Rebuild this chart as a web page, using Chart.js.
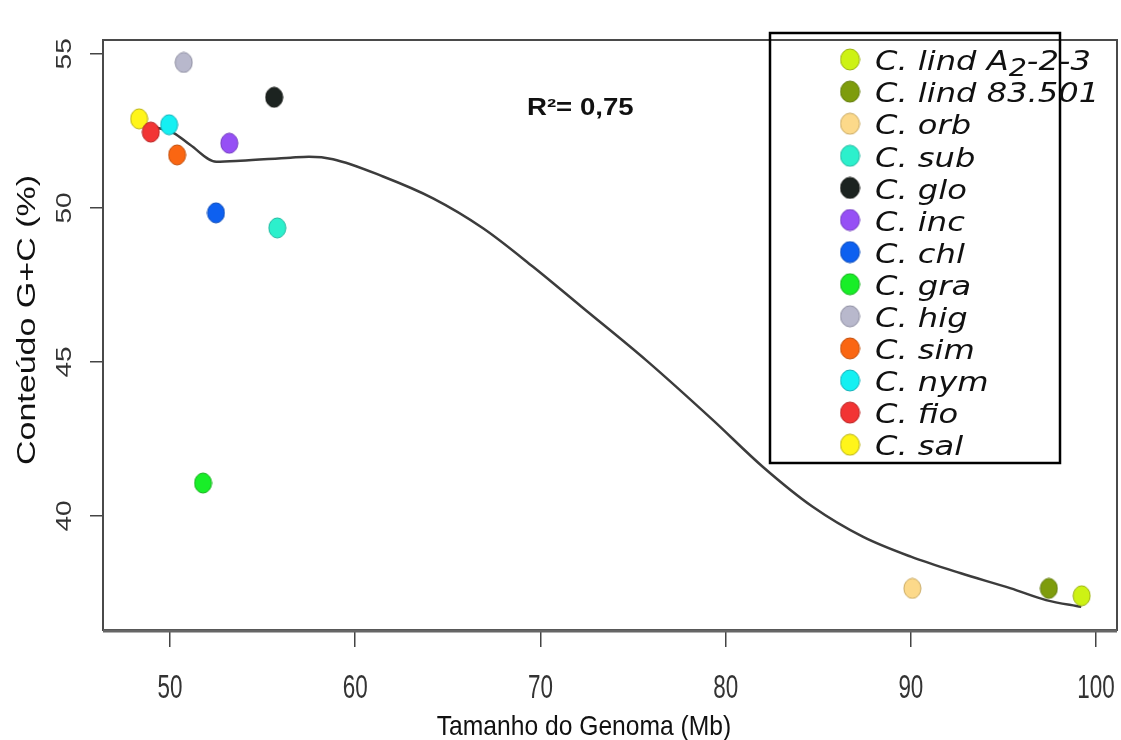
<!DOCTYPE html>
<html>
<head>
<meta charset="utf-8">
<title>Conteúdo G+C vs Tamanho do Genoma</title>
<script src="https://cdn.jsdelivr.net/npm/chart.js@4.4.1/dist/chart.umd.min.js"></script>
<style>
  html, body { margin: 0; padding: 0; background: #fff; }
  #chart { display: block; }
</style>
</head>
<body>
<canvas id="chart" width="1121" height="740"></canvas>
<script>
'use strict';

// ── Data ─────────────────────────────────────────────────
const species    = ['C. lind A₂-2-3', 'C. lind 83.501', 'C. orb', 'C. sub', 'C. glo', 'C. inc', 'C. chl',
                    'C. gra', 'C. hig', 'C. sim', 'C. nym', 'C. fio', 'C. sal'];
const genomeSize = [99.22, 97.45, 90.08, 55.79, 55.62, 53.20, 52.48, 51.78, 50.74, 50.38, 49.95, 48.96, 48.33];
const gcContent  = [37.41, 37.65, 37.65, 49.35, 53.59, 52.10, 49.84, 41.07, 54.72, 51.72, 52.70, 52.46, 52.89];
const fillColors = ['#cdf214', '#7e9c0c', '#fcd98a', '#2cf0cc', '#1c2320', '#9650f5', '#0d60f0',
                    '#18ee28', '#b8b8cc', '#fa6612', '#14f0f2', '#f23434', '#fff51a'];
const edgeColors = ['#9ab010', '#5f7a08', '#c8a860', '#20b8a0', '#101410', '#7038c0', '#0848b8',
                    '#10b018', '#8c8ca0', '#c04c08', '#10b0b8', '#b82020', '#b8b010'];

// loess fit line
const fitX = [48.33, 49.2, 50.2, 51.08, 52.5, 53.8, 56.5, 57.5, 58.8, 61.5, 64.2, 66.9, 69.6,
              72.2, 75.7, 79.3, 82.0, 84.7, 87.4, 90.0, 92.7, 95.4, 97.3, 99.2];
const fitY = [52.78, 52.62, 52.43, 52.05, 51.50, 51.53, 51.63, 51.66, 51.58, 51.02, 50.31, 49.34, 48.09,
              46.80, 45.06, 43.12, 41.60, 40.30, 39.33, 38.68, 38.14, 37.65, 37.27, 37.05];

const xTicks = [50, 60, 70, 80, 90, 100];
const yTicks = [40, 45, 50, 55];
const xTitle = 'Tamanho do Genoma (Mb)';
const yTitle = 'Conteúdo G+C (%)';
const r2Text = 'R²= 0,75';

// ── Slightly oval dots, like the original ────────────────
function makeDot(fill, edge, w, h) {
    const c = document.createElement('canvas');
    c.width = w + 2;
    c.height = h + 2;
    const g = c.getContext('2d');
    g.beginPath();
    g.ellipse(c.width / 2, c.height / 2, w / 2, h / 2, 0, 0, Math.PI * 2);
    g.fillStyle = fill;
    g.fill();
    g.lineWidth = 1;
    g.strokeStyle = edge;
    g.stroke();
    return c;
}

const plotDots   = species.map((s, i) => makeDot(fillColors[i], edgeColors[i], 17, 20));
const legendDots = species.map((s, i) => makeDot(fillColors[i], edgeColors[i], 19, 21));

function drawText(ctx, text, x, y, o) {
    ctx.save();
    ctx.translate(x, y);
    ctx.scale(o.sx || 1, 1);
    if (o.rot) ctx.rotate(o.rot);
    ctx.font = o.font;
    ctx.fillStyle = o.color || '#222';
    ctx.textAlign = o.align || 'center';
    ctx.textBaseline = o.baseline || 'middle';
    ctx.fillText(text, 0, 0);
    ctx.restore();
}

// ── R-style frame, axis labels, legend ───────────────────
const rStyle = {
    id: 'rStyle',
    afterDraw(chart) {
        const ctx = chart.ctx;
        const a = chart.chartArea;
        const xs = chart.scales.x;
        const ys = chart.scales.y;

        ctx.save();
        ctx.strokeStyle = '#4a4a4a';
        ctx.lineWidth = 2;
        ctx.strokeRect(a.left, a.top, a.right - a.left, a.bottom - a.top);
        ctx.strokeStyle = '#666';
        ctx.lineWidth = 3;
        ctx.beginPath();
        ctx.moveTo(a.left, a.bottom + 1);
        ctx.lineTo(a.right, a.bottom + 1);
        ctx.stroke();
        ctx.restore();

        yTicks.forEach(v => {
            drawText(ctx, String(v), 65, ys.getPixelForValue(v),
                { font: '28px "Liberation Sans"', sx: 0.78, rot: -Math.PI / 2, color: '#333' });
        });
        xTicks.forEach(v => {
            drawText(ctx, String(v), xs.getPixelForValue(v), 689,
                { font: '33px "Liberation Sans"', sx: 0.68, color: '#333' });
        });

        drawText(ctx, xTitle, 584, 735,
            { font: '28px "Liberation Sans"', sx: 0.88, baseline: 'alphabetic', color: '#111' });
        drawText(ctx, yTitle, 28, 320,
            { font: '34px "Liberation Sans"', sx: 0.75, rot: -Math.PI / 2, color: '#111' });

        drawText(ctx, r2Text, 527, 115,
            { font: 'bold 23px "Liberation Sans"', sx: 1.2, align: 'left', baseline: 'alphabetic', color: '#111' });

        // legend
        ctx.save();
        ctx.strokeStyle = '#000';
        ctx.lineWidth = 2.5;
        ctx.strokeRect(770, 33, 290, 430);
        ctx.restore();

        const font = 'italic 27px "DejaVu Sans"';
        const sx = 1.19;
        species.forEach((label, i) => {
            const cy = 59.5 + i * 32.1;
            const dot = legendDots[i];
            ctx.drawImage(dot, 850 - dot.width / 2, cy - dot.height / 2);

            ctx.save();
            ctx.font = font;
            ctx.fillStyle = '#111';
            ctx.textBaseline = 'alphabetic';
            ctx.textAlign = 'left';
            ctx.translate(875, cy + 10.7);
            ctx.scale(sx, 1);
            const parts = label.split('₂');
            let x = 0;
            parts.forEach((p, k) => {
                ctx.fillText(p, x, 0);
                x += ctx.measureText(p).width;
                if (k < parts.length - 1) {
                    ctx.font = 'italic 24px "DejaVu Sans"';
                    ctx.fillText('2', x, 6);
                    x += ctx.measureText('2').width;
                    ctx.font = font;
                }
            });
            ctx.restore();
        });
    }
};

// ── Datasets ──────────────────────────────────────────────
const datasets = species.map((label, i) => ({
    label: label,
    data: [{ x: genomeSize[i], y: gcContent[i] }],
    pointStyle: plotDots[i],
    pointRadius: 10,
    showLine: false
}));

datasets.push({
    label: 'loess',
    data: fitX.map((x, i) => ({ x: x, y: fitY[i] })),
    showLine: true,
    borderColor: '#3c3c3c',
    borderWidth: 2.5,
    pointRadius: 0,
    cubicInterpolationMode: 'monotone'
});

new Chart(document.getElementById('chart'), {
    type: 'scatter',
    data: { datasets: datasets },
    options: {
        responsive: false,
        animation: false,
        layout: { autoPadding: false, padding: { top: 40, right: 4, left: 0, bottom: 0 } },
        scales: {
            x: {
                type: 'linear',
                min: 46.38,
                max: 101.13,
                afterBuildTicks: (s) => { s.ticks = xTicks.map(v => ({ value: v })); },
                afterFit: (s) => { s.height = 110; s.paddingLeft = 0; s.paddingRight = 0; },
                ticks: { display: false },
                grid: { drawOnChartArea: false, drawTicks: true, tickLength: 17, color: '#444', lineWidth: 1.5 },
                border: { display: false }
            },
            y: {
                type: 'linear',
                min: 36.30,
                max: 55.45,
                afterBuildTicks: (s) => { s.ticks = yTicks.map(v => ({ value: v })); },
                afterFit: (s) => { s.width = 103; s.paddingTop = 0; s.paddingBottom = 0; },
                ticks: { display: false },
                grid: { drawOnChartArea: false, drawTicks: true, tickLength: 13, color: '#444', lineWidth: 1.5 },
                border: { display: false }
            }
        },
        plugins: {
            legend: { display: false },
            tooltip: { enabled: false }
        }
    },
    plugins: [rStyle]
});
</script>
</body>
</html>
